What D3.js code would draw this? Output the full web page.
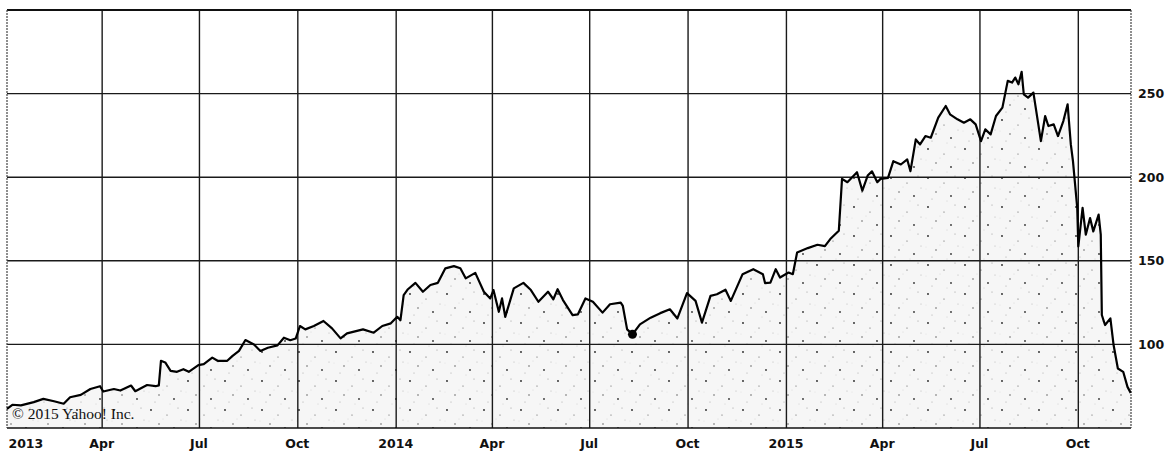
<!DOCTYPE html>
<html>
<head>
<meta charset="utf-8">
<script src="https://cdn.jsdelivr.net/npm/d3@7"></script>
<style>
  html, body { margin: 0; padding: 0; background: #fff; }
  svg { display: block; }
  .tick text { font-family: "DejaVu Sans", sans-serif; font-weight: bold; font-size: 12.5px; fill: #111; }
</style>
</head>
<body>
<svg id="chart" width="1173" height="453"></svg>
<script>
// ---- data ----
const dates = [
  "2013-01-02","2013-01-07","2013-01-15","2013-01-27","2013-02-05","2013-02-15","2013-02-24","2013-03-02","2013-03-12","2013-03-21",
  "2013-03-30","2013-04-02","2013-04-12","2013-04-18","2013-04-28","2013-05-02","2013-05-13","2013-05-21","2013-05-24","2013-05-26",
  "2013-05-30","2013-06-04","2013-06-10","2013-06-16","2013-06-21","2013-06-30","2013-07-05","2013-07-13","2013-07-18","2013-07-27",
  "2013-08-01","2013-08-07","2013-08-13","2013-08-21","2013-08-27","2013-09-03","2013-09-12","2013-09-18","2013-09-24","2013-09-29",
  "2013-10-03","2013-10-08","2013-10-16","2013-10-25","2013-11-02","2013-11-10","2013-11-16","2013-12-01","2013-12-11","2013-12-19",
  "2013-12-27","2014-01-02","2014-01-05","2014-01-08","2014-01-12","2014-01-19","2014-01-26","2014-02-02","2014-02-09","2014-02-16",
  "2014-02-24","2014-03-02","2014-03-07","2014-03-16","2014-03-24","2014-03-30","2014-04-02","2014-04-07","2014-04-10","2014-04-13",
  "2014-04-21","2014-04-30","2014-05-07","2014-05-14","2014-05-23","2014-05-28","2014-06-01","2014-06-06","2014-06-15","2014-06-20",
  "2014-06-27","2014-07-04","2014-07-13","2014-07-20","2014-07-30","2014-08-01","2014-08-05","2014-08-10","2014-08-17","2014-08-27",
  "2014-09-05","2014-09-14","2014-09-21","2014-09-30","2014-10-08","2014-10-14","2014-10-22","2014-10-28","2014-11-05","2014-11-10",
  "2014-11-21","2014-12-01","2014-12-10","2014-12-12","2014-12-17","2014-12-22","2014-12-26","2015-01-03","2015-01-07","2015-01-11",
  "2015-01-21","2015-01-30","2015-02-06","2015-02-11","2015-02-19","2015-02-22","2015-02-27","2015-03-08","2015-03-13","2015-03-18",
  "2015-03-22","2015-03-27","2015-03-30","2015-04-06","2015-04-11","2015-04-18","2015-04-24","2015-04-27","2015-05-02","2015-05-06",
  "2015-05-11","2015-05-16","2015-05-23","2015-05-30","2015-06-03","2015-06-10","2015-06-16","2015-06-22","2015-06-27","2015-07-02",
  "2015-07-06","2015-07-11","2015-07-16","2015-07-22","2015-07-27","2015-07-31","2015-08-03","2015-08-06","2015-08-09","2015-08-11",
  "2015-08-15","2015-08-20","2015-08-27","2015-08-31","2015-09-03","2015-09-08","2015-09-12","2015-09-17","2015-09-21","2015-09-24",
  "2015-09-26","2015-09-30","2015-10-01","2015-10-05","2015-10-08","2015-10-12","2015-10-15","2015-10-20","2015-10-22","2015-10-23",
  "2015-10-26","2015-10-31","2015-11-03","2015-11-07","2015-11-12","2015-11-16","2015-11-19"
];
const prices = [
  61.5,63.9,63.5,65.5,67.4,66,64.5,68.4,69.8,73.3,
  75,71.8,73.3,72.4,75.4,72,75.7,75,75.5,90.2,
  89.2,84.2,83.6,85.2,83.6,87.6,88.2,92.1,90.2,90.2,
  93.1,96.1,102.6,100,96.1,98,99.4,104,102.5,103.5,
  111,109,111,114,109.6,103.6,106.6,109,107,111,
  112.6,116.5,114.5,129.5,133,136.8,131.5,135.5,136.8,145.5,
  146.8,145.5,139.5,142.8,131.5,127.5,132.5,119.5,127.5,116.5,
  133.5,136.8,132.5,125.5,131.5,127,133,126.5,117.5,118,
  127.5,125.5,119,124,125,123,109,106,112,116,
  118.7,121,115.5,130.7,126,113,129,130,132.7,126,
  142,145,142,136.7,137,145,140,143,142,155,
  157.6,159.6,158.8,163,168,199,197,203,192,201,
  203.5,197,199,199.6,209.6,207.6,210.6,203.6,222.6,219.6,
  224.6,223.6,235.6,242.6,237.6,234.6,232.6,234.6,231.6,221.6,
  228.6,225.6,236.6,241.6,257.6,256.6,259.6,255.6,263,249.6,
  247.6,250.6,221.6,236.6,230.6,231.6,224.6,233.6,243.6,219.6,
  209.6,181.6,158.6,181.6,165.6,175.6,167.6,177.6,165.6,117.6,
  111.6,115.6,99.6,85.6,83.6,74.6,71
];
const markerDate = "2014-08-10";
const markerValue = 106;
const yTicks = [100, 150, 200, 250];
const gridValues = [100, 150, 200, 250];
const xTickDates = ["2013-01-01","2013-04-01","2013-07-01","2013-10-01","2014-01-01","2014-04-01","2014-07-01","2014-10-01","2015-01-01","2015-04-01","2015-07-01","2015-10-01"];
const xTickLabels = ["2013","Apr","Jul","Oct","2014","Apr","Jul","Oct","2015","Apr","Jul","Oct"];
const copyrightText = "\u00A9 2015 Yahoo! Inc.";

// ---- drawing ----
const parse = d3.timeParse("%Y-%m-%d");
const series = dates.map((d, i) => ({ date: parse(d), value: prices[i] }));

const L = 7, R = 1131, T = 10, B = 428;
const x = d3.scaleTime().domain([parse("2013-01-02"), parse("2015-11-19")]).range([L, R - 0.3]);
const y = d3.scaleLinear().domain([50, 300]).range([B, T]);

const svg = d3.select("#chart");
const defs = svg.append("defs");
const pat = defs.append("pattern").attr("id", "stipple").attr("patternUnits", "userSpaceOnUse")
  .attr("width", 37).attr("height", 29);
pat.append("rect").attr("width", 37).attr("height", 29).attr("fill", "#f6f6f6");
[[3,4,0.9,"#222"],[19,9,0.6,"#555"],[30,2,0.5,"#888"],[11,18,0.7,"#444"],[26,22,0.9,"#333"],[7,25,0.5,"#999"],[33,14,0.5,"#aaa"],[15,13,0.4,"#bbb"],[22,27,0.4,"#aaa"],[1,15,0.4,"#ccc"]]
  .forEach(([cx, cy, r, c]) => pat.append("circle").attr("cx", cx).attr("cy", cy).attr("r", r).attr("fill", c));

const clip = defs.append("clipPath").attr("id", "plotclip");
clip.append("rect").attr("x", L).attr("y", T).attr("width", R - L).attr("height", B - T);

// area fill
const area = d3.area().x(d => x(d.date)).y0(B).y1(d => y(d.value)).curve(d3.curveLinear);
svg.append("path").datum(series).attr("d", area).attr("fill", "url(#stipple)").attr("clip-path", "url(#plotclip)");

// grid
const grid = svg.append("g");
grid.selectAll("line.h").data(gridValues).join("line")
  .attr("x1", L).attr("x2", R).attr("y1", d => y(d)).attr("y2", d => y(d))
  .attr("stroke", "#1a1a1a").attr("stroke-width", 1.4);
grid.selectAll("line.v").data(xTickDates.slice(1)).join("line")
  .attr("x1", d => x(parse(d))).attr("x2", d => x(parse(d))).attr("y1", T).attr("y2", B)
  .attr("stroke", "#1a1a1a").attr("stroke-width", 1.4);

// frame
svg.append("line").attr("x1", L).attr("x2", R).attr("y1", T).attr("y2", T).attr("stroke", "#111").attr("stroke-width", 2);
svg.append("line").attr("x1", L).attr("x2", R).attr("y1", B).attr("y2", B).attr("stroke", "#111").attr("stroke-width", 1.6);
svg.append("line").attr("x1", L).attr("x2", L).attr("y1", T).attr("y2", B).attr("stroke", "#444").attr("stroke-width", 1.2).attr("stroke-dasharray", "2,1");
svg.append("line").attr("x1", R).attr("x2", R).attr("y1", T).attr("y2", B).attr("stroke", "#444").attr("stroke-width", 1.2).attr("stroke-dasharray", "2,1");

// price line
const line = d3.line().x(d => x(d.date)).y(d => y(d.value));
svg.append("path").datum(series).attr("d", line).attr("fill", "none")
  .attr("stroke", "#000").attr("stroke-width", 2.2).attr("stroke-linejoin", "round");

// marker
svg.append("circle").attr("cx", x(parse(markerDate))).attr("cy", y(markerValue)).attr("r", 4.5).attr("fill", "#000");

// right axis
const yAxis = d3.axisRight(y).tickValues(yTicks).tickSize(0).tickPadding(7).tickFormat(d3.format("d"));
const gy = svg.append("g").attr("transform", `translate(${R},0)`).call(yAxis);
gy.select(".domain").remove();

// bottom axis
const xAxis = d3.axisBottom(x).tickValues(xTickDates.map(parse)).tickSize(0).tickPadding(11)
  .tickFormat((d, i) => xTickLabels[i]);
const gx = svg.append("g").attr("transform", `translate(-1,${B})`).call(xAxis);
gx.select(".domain").remove();
gx.selectAll(".tick").filter((d, i) => i === 0).select("text").attr("text-anchor", "start").attr("x", 3);

// copyright
svg.append("text").attr("x", 12).attr("y", 419).text(copyrightText)
  .attr("font-family", "Liberation Serif, serif").attr("font-size", 15.5).attr("fill", "#111");
</script>
</body>
</html>
